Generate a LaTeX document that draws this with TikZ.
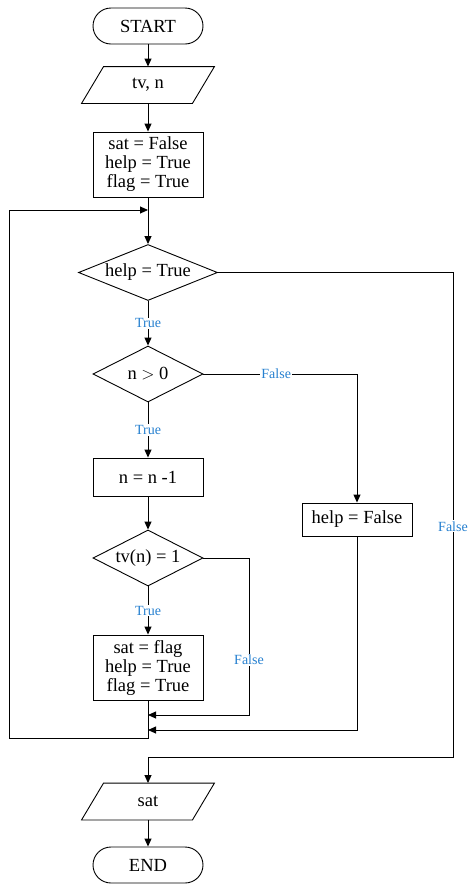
\documentclass[tikz,border=0pt]{standalone}
\usepackage{fontspec}
\setmainfont{Liberation Serif}
\usetikzlibrary{shapes.geometric,arrows.meta,calc}
\definecolor{lblblue}{RGB}{38,128,208}
\tikzset{
  base/.style={draw, line width=0.9pt, inner sep=0pt, align=center,
    font=\fontsize{18.5}{19}\selectfont},
  term/.style={base, minimum width=110pt, minimum height=36pt, rounded corners=18pt},
  procbox/.style={base, minimum width=110pt},
  decide/.style={base, diamond, aspect=2, minimum width=110pt, minimum height=56pt},
  iobox/.style={base, draw=none, minimum width=110pt, minimum height=36pt},
  arr/.style={draw, line width=0.9pt, -{Triangle[length=8pt,width=7pt]}},
  lbl/.style={fill=white, text=lblblue, inner sep=1pt,
    font=\fontsize{14}{14}\selectfont}
}
\begin{document}
\begin{tikzpicture}[x=1pt,y=-1pt]
\useasboundingbox (0,0) rectangle (468,884);

% nodes
\node[term] (start) at (148,26) {START};
\node[iobox] (tv) at (148,85) {tv, n};
\draw[line width=0.9pt] ($(tv.north west)+(11,0)$) -- ($(tv.north east)+(11,0)$)
  -- ($(tv.south east)+(-11,0)$) -- ($(tv.south west)+(-11,0)$) -- cycle;
\node[procbox, minimum height=65pt] (init) at (148,164.5) {sat = False\\help = True\\flag = True};
\node[decide, aspect=2.5, minimum width=139pt] (help) at (148,272.5) {help = True};
\node[decide] (npos) at (148,374) {n $>$ 0};
\node[procbox, minimum height=38pt] (dec) at (148,477) {n = n -1};
\node[decide] (tvn) at (148,558) {tv(n) = 1};
\node[procbox, minimum height=65pt] (upd) at (148,667.5) {sat = flag\\help = True\\flag = True};
\node[procbox, minimum height=33pt] (hf) at (357,519.5) {help = False};
\node[iobox] (sat) at (148,801.5) {sat};
\draw[line width=0.9pt] ($(sat.north west)+(11,0)$) -- ($(sat.north east)+(11,0)$)
  -- ($(sat.south east)+(-11,0)$) -- ($(sat.south west)+(-11,0)$) -- cycle;
\node[term] (end) at (148,865) {END};

% junction points
\coordinate (j0) at (148,210);
\coordinate (j1) at (148,715);
\coordinate (j2) at (148,730);
\coordinate (c1) at (249,715);
\coordinate (rail) at (453,757);
\coordinate (lb1) at (148,738);
\coordinate (lb2) at (9,738);
\coordinate (lb3) at (9,210);

% connectors
\draw[arr] (start) -- (tv);
\draw[arr] (tv) -- (init);
\draw[arr] (init) -- (help);
\draw[arr] (help) -- node[lbl]{True} (npos);
\draw[arr] (npos) -- node[lbl]{True} (dec);
\draw[arr] (dec) -- (tvn);
\draw[arr] (tvn) -- node[lbl]{True} (upd);
\draw[arr] (npos.east) -| node[lbl, pos=0.237]{False} (hf);
\draw[arr] (tvn.east) -| node[lbl, pos=0.825]{False} (c1) -- (j1);
\draw[arr] (hf) |- (j2);
\draw[arr] (upd) -- (lb1) -- (lb2) -- (lb3) -- (j0);
\draw[arr] (help.east) -| node[lbl, pos=0.762]{False} (rail) -| (sat);
\draw[arr] (sat) -- (end);
\end{tikzpicture}
\end{document}
